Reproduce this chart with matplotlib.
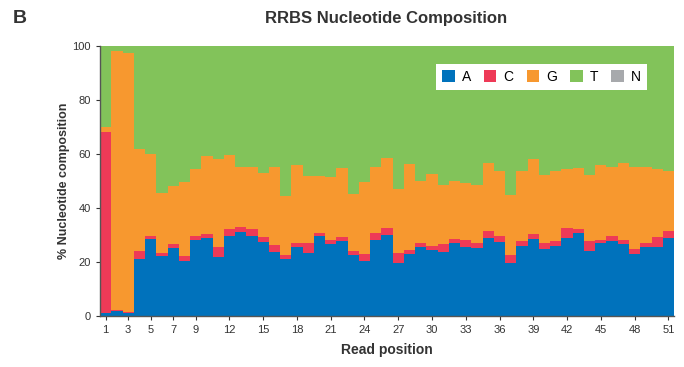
import numpy as np
import matplotlib
matplotlib.use("Agg")
import matplotlib.pyplot as plt
from matplotlib.patches import Patch

plt.rcParams['font.family'] = ['Liberation Sans Narrow', 'Liberation Sans', 'DejaVu Sans']

# read positions 1..51
positions = np.arange(1, 52)

# percent per base
pct_a = [1.2, 1.9, 1.2, 21.2, 28.5, 22.3, 25.2, 20.2, 28.2, 29.0,
         21.7, 29.5, 31.2, 29.5, 27.5, 23.8, 21.0, 25.4, 23.5, 29.5,
         26.5, 27.7, 22.5, 20.2, 28.3, 30.1, 19.8, 22.8, 25.4, 24.3,
         23.8, 27.2, 25.6, 25.2, 29.0, 27.5, 19.8, 25.9, 28.6, 24.8,
         25.9, 29.0, 30.8, 24.0, 26.9, 27.8, 26.7, 23.1, 25.4, 25.6,
         29.0]
pct_c = [66.8, 0.2, 0.1, 2.7, 1.0, 1.1, 1.5, 2.1, 1.6, 1.4,
         3.8, 2.7, 1.8, 2.7, 1.7, 2.6, 1.6, 1.5, 3.4, 1.3,
         1.5, 1.6, 1.5, 2.6, 2.5, 2.4, 3.7, 1.5, 1.7, 1.6,
         2.9, 1.4, 2.6, 1.8, 2.6, 2.0, 2.8, 1.8, 1.8, 2.3,
         1.7, 3.5, 1.5, 3.6, 1.3, 1.9, 1.5, 1.8, 1.5, 3.5,
         2.6]
pct_g = [2.0, 96.0, 96.0, 38.1, 30.6, 22.1, 21.3, 27.2, 24.8, 28.9,
         32.7, 27.3, 22.1, 22.9, 23.6, 28.8, 21.7, 29.0, 25.1, 21.2,
         23.6, 25.4, 21.0, 26.7, 24.4, 25.9, 23.5, 31.9, 22.8, 26.7,
         21.7, 21.5, 21.1, 21.5, 25.0, 24.2, 22.2, 26.0, 27.9, 25.1,
         26.0, 22.0, 22.4, 24.6, 27.7, 25.6, 28.5, 30.3, 28.2, 25.5,
         22.0]
pct_n = [0.0] * 51
pct_t = [100 - a - c - g - n for a, c, g, n in zip(pct_a, pct_c, pct_g, pct_n)]

bases = ['A', 'C', 'G', 'T', 'N']
series = [pct_a, pct_c, pct_g, pct_t, pct_n]
colors = ['#0072bc', '#ee3a57', '#f7982f', '#82c35a', '#a7a9ac']

fig = plt.figure(figsize=(6.84, 3.67), dpi=100)
ax = fig.add_axes([0.1462, 0.139, 0.8392, 0.7357])

# step edges so each position fills its own column
edges = np.append(positions - 0.5, positions[-1] + 0.5)
bottom = np.zeros(len(positions))
for vals, col in zip(series, colors):
    vals = np.array(vals, dtype=float)
    top = bottom + vals
    ax.fill_between(edges, np.append(bottom, bottom[-1]), np.append(top, top[-1]),
                    step='post', color=col, linewidth=0)
    bottom = top

ax.set_xlim(0.5, 51.5)
ax.set_ylim(0, 100)
ax.set_xticks([1, 3, 5, 7, 9, 12, 15, 18, 21, 24, 27, 30, 33, 36, 39, 42, 45, 48, 51])
ax.set_yticks([0, 20, 40, 60, 80, 100])
ax.tick_params(labelsize=8, length=3, width=0.8, colors='#333333')
for s in ['top', 'right']:
    ax.spines[s].set_visible(False)
for s in ['left', 'bottom']:
    ax.spines[s].set_color('#555555')
    ax.spines[s].set_linewidth(1.0)

ax.set_xlabel('Read position', fontsize=10, fontweight='bold', color='#333333', labelpad=6)
ax.set_ylabel('% Nucleotide composition', fontsize=9, fontweight='bold', color='#333333', labelpad=2)

handles = [Patch(facecolor=c, edgecolor='none') for c in colors]
leg = ax.legend(handles, bases, ncol=5, loc='upper right', bbox_to_anchor=(0.965, 0.96),
                frameon=True, fancybox=False, fontsize=10, handlelength=0.9, handleheight=0.9,
                columnspacing=0.95, handletextpad=0.5, borderpad=0.45)
leg.get_frame().set_edgecolor('none')
leg.get_frame().set_facecolor('white')
leg.get_frame().set_alpha(1)

fig.text(0.018, 0.95, 'B', fontsize=14, fontweight='bold', color='#333333', va='center')
fig.text(0.565, 0.95, 'RRBS Nucleotide Composition', fontsize=12, fontweight='bold',
         color='#333333', ha='center', va='center')

fig.savefig('out.png', dpi=100)
